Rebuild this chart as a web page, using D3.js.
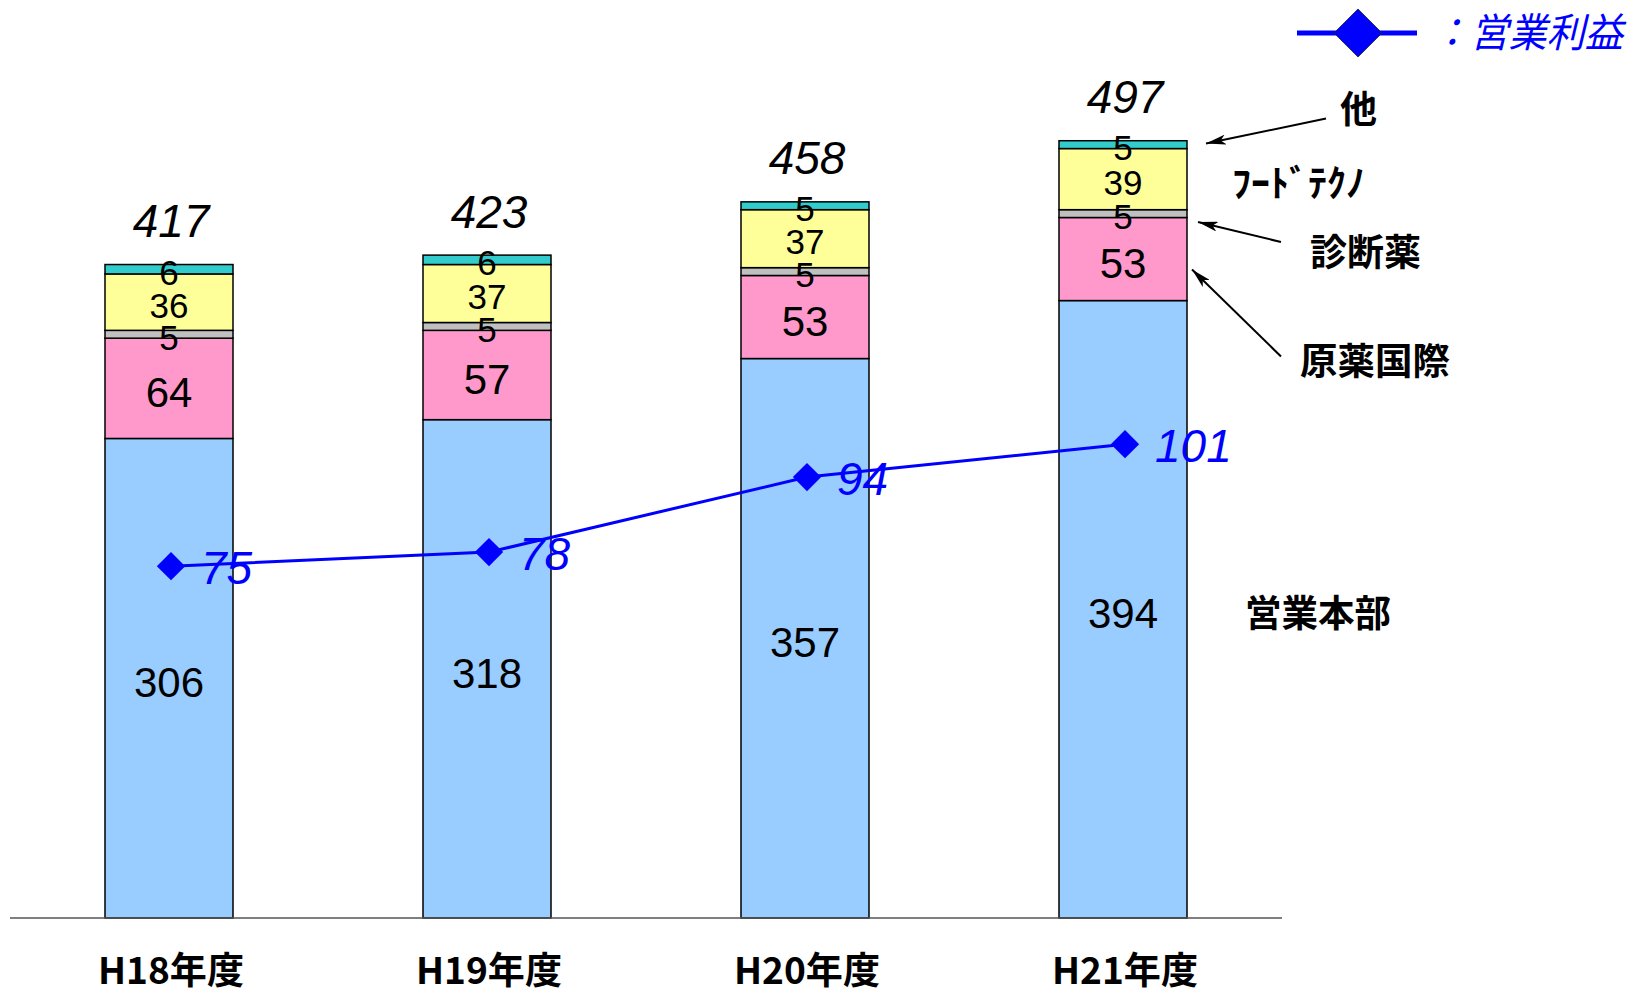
<!DOCTYPE html>
<html><head><meta charset="utf-8">
<script src="https://cdn.jsdelivr.net/npm/d3@7"></script>
<style>body{margin:0;background:#fff}svg{display:block}</style>
</head><body>
<script>
const categories = ["H18年度","H19年度","H20年度","H21年度"];
const eigyoHonbu = [306,318,357,394];
const genyakuKokusai = [64,57,53,53];
const shindanyaku = [5,5,5,5];
const foodTechno = [36,37,37,39];
const other = [6,6,5,5];
const totals = [417,423,458,497];
const operatingProfit = [75,78,94,101];
const seriesNames = ["営業本部","原薬国際","診断薬","ﾌｰﾄﾞﾃｸﾉ","他"];
const seriesValues = [eigyoHonbu, genyakuKokusai, shindanyaku, foodTechno, other];
const colors = ["#99CCFF","#FF99CC","#C0C0C0","#FFFF99","#33CCCC"];

const W = 1644, H = 995;
const svg = d3.select("body").append("svg").attr("width", W).attr("height", H);
const defs = svg.append("defs");
defs.append("marker").attr("id","arr").attr("viewBox","0 0 20 10").attr("refX",20).attr("refY",5)
  .attr("markerWidth",20).attr("markerHeight",10).attr("markerUnits","userSpaceOnUse").attr("orient","auto")
  .append("path").attr("d","M0,0 L20,5 L0,10 L5,5 Z").attr("fill","#000");

const x = d3.scaleBand().domain(categories).range([10,1282]).paddingInner(0.5975).paddingOuter(0.29875);
const y = d3.scaleLinear().domain([0,585.8]).range([918,0]);
const y2 = d3.scaleLinear().domain([0,195.7]).range([918,0]);

const rows = categories.map((c,i)=>{ const o={cat:c}; seriesNames.forEach((s,j)=>o[s]=seriesValues[j][i]); return o; });
const stack = d3.stack().keys(seriesNames)(rows);
const fontLat = "'Liberation Sans', Arial, sans-serif";
const fontCJK = "'Noto Sans CJK JP', sans-serif";

stack.forEach((layer,j)=>{
  const g = svg.append("g");
  g.selectAll("rect").data(layer).join("rect")
    .attr("x", d=>x(d.data.cat)).attr("width", x.bandwidth())
    .attr("y", d=>y(d[1])).attr("height", d=>y(d[0])-y(d[1]))
    .attr("fill", colors[j]).attr("stroke","#000").attr("stroke-width",1.5);
});
stack.forEach((layer,j)=>{
  const big = j<2; const fs = big?42:35;
  svg.append("g").selectAll("text").data(layer).join("text")
    .attr("x", d=>x(d.data.cat)+x.bandwidth()/2)
    .attr("y", d=>(y(d[0])+y(d[1]))/2 + (big?19:15.5))
    .attr("text-anchor","middle").attr("font-family",fontLat).attr("font-size",fs).attr("fill","#000")
    .text((d,i)=>seriesValues[j][i]);
});

// axis baseline
svg.append("g").attr("transform","translate(0,918)")
  .call(d3.axisBottom(x).tickSize(0).tickPadding(0).tickFormat(""))
  .call(g=>{g.select(".domain").attr("stroke","#555").attr("stroke-width",1.5).attr("d","M10,0H1282");});

// category labels
svg.append("g").selectAll("text").data(categories).join("text")
  .attr("x", d=>x(d)+x.bandwidth()/2+2).attr("y", 984)
  .attr("text-anchor","middle").attr("font-family",fontCJK).attr("font-weight",700).attr("font-size",37)
  .attr("textLength",146).attr("lengthAdjust","spacingAndGlyphs")
  .text(d=>d);

// totals
svg.append("g").selectAll("text").data(totals).join("text")
  .attr("x",(d,i)=>x(categories[i])+x.bandwidth()/2+2)
  .attr("y",(d,i)=>y(d3.sum(seriesValues,s=>s[i]))-27.5)
  .attr("text-anchor","middle").attr("font-family",fontLat).attr("font-style","italic").attr("font-size",46)
  .text(d=>d);

// profit line
const px = (d,i)=>x(categories[i])+x.bandwidth()/2+2;
svg.append("path").datum(operatingProfit)
  .attr("d", d3.line().x(px).y(d=>y2(d)))
  .attr("fill","none").attr("stroke","#0000FF").attr("stroke-width",3);
svg.append("g").selectAll("path").data(operatingProfit).join("path")
  .attr("transform",(d,i)=>`translate(${px(d,i)},${y2(d)}) rotate(45)`)
  .attr("d","M-10,-10H10V10H-10Z").attr("fill","#0000FF");
svg.append("g").selectAll("text").data(operatingProfit).join("text")
  .attr("x",(d,i)=>px(d,i)+30).attr("y",d=>y2(d)+18)
  .attr("font-family",fontLat).attr("font-style","italic").attr("font-size",46).attr("fill","#0000FF")
  .text(d=>d);

// right-side series labels
const sideLabels = [
  {t:"他", x:1340, y:110, w:null},
  {t:"ﾌｰﾄﾞﾃｸﾉ", x:1232, y:184, w:133},
  {t:"診断薬", x:1310, y:253, w:111},
  {t:"原薬国際", x:1300, y:362, w:150},
  {t:"営業本部", x:1245, y:614, w:146}
];
svg.append("g").selectAll("text").data(sideLabels).join("text")
  .attr("x",d=>d.x).attr("y",d=>d.y+13)
  .attr("font-family",fontCJK).attr("font-weight",700).attr("font-size",37)
  .each(function(d){ if(d.w) d3.select(this).attr("textLength",d.w).attr("lengthAdjust","spacingAndGlyphs"); })
  .text(d=>d.t);

// arrows
const arrows = [[1326,118.5,1206,143.6],[1281,242,1198,222],[1281,356.5,1192,269.5]];
svg.append("g").selectAll("line").data(arrows).join("line")
  .attr("x1",d=>d[0]).attr("y1",d=>d[1]).attr("x2",d=>d[2]).attr("y2",d=>d[3])
  .attr("stroke","#000").attr("stroke-width",2).attr("marker-end","url(#arr)");

// legend
const lg = svg.append("g");
lg.append("line").attr("x1",1297).attr("x2",1417).attr("y1",33).attr("y2",33).attr("stroke","#0000FF").attr("stroke-width",5);
lg.append("path").attr("transform","translate(1358,33) rotate(45)").attr("d","M-17,-17H17V17H-17Z").attr("fill","#0000FF").attr("stroke","#223").attr("stroke-width",0.8);
lg.append("text").attr("x",1432).attr("y",47).attr("font-family",fontCJK).attr("font-style","italic").attr("font-size",40).attr("fill","#0000FF")
  .attr("textLength",191).attr("lengthAdjust","spacingAndGlyphs").text("：営業利益");
</script>
</body></html>
